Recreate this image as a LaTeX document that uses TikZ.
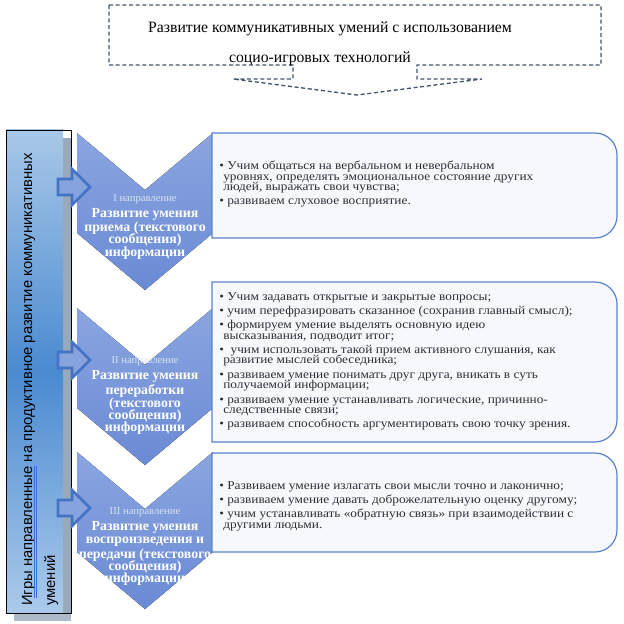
\documentclass[tikz,border=0pt]{standalone}
\usepackage{fontspec}
\setmainfont{Liberation Serif}
\setsansfont{Liberation Sans}
\newfontfamily\bodyfont[FakeStretch=1.11]{Liberation Serif}
\definecolor{ttlline}{HTML}{44546A}
\definecolor{chevtop}{HTML}{8AA5E0}
\definecolor{chevbot}{HTML}{6A8AD4}
\definecolor{boxline}{HTML}{5A82CC}
\definecolor{boxfill}{HTML}{F6F8FD}
\definecolor{arrline}{HTML}{4472C4}
\definecolor{arrfill}{HTML}{86A3DD}
\definecolor{sidetop}{HTML}{A8C8E8}
\definecolor{sidemid}{HTML}{4A8AD0}
\definecolor{sidebot}{HTML}{ABCAEA}
\definecolor{sidegray}{HTML}{98A9BB}
\definecolor{lbltext}{HTML}{D9E1F2}
\definecolor{bodytext}{HTML}{303030}
\definecolor{spellblue}{HTML}{3A6FE0}
\newcommand{\dirlbl}[1]{{\color{lbltext}\fontsize{8}{8}\selectfont\mdseries #1}}
\newcommand{\itm}{\textbullet\ }
\newcommand{\cont}{\hspace*{3pt}}
\newcommand{\tightlines}{\lineskiplimit=-5pt\relax}
\tikzset{
  ttlbox/.style  = {draw=ttlline, line width=1pt, dash pattern=on 3pt off 2pt},
  ttltxt/.style  = {font=\fontsize{11.8}{22.5}\selectfont, align=center, inner sep=0pt},
  chev/.style    = {top color=chevtop, bottom color=chevbot, draw=none},
  chevtxt/.style = {text=white, font=\fontsize{10.4}{9.3}\selectfont\bfseries\tightlines,
                    align=center, inner sep=0pt, anchor=north},
  infobox/.style = {draw=boxline, fill=boxfill, line width=0.9pt},
  infotxt/.style = {text=bodytext, font=\bodyfont\fontsize{9}{7.9}\selectfont\tightlines,
                    align=left, inner sep=0pt, anchor=north west},
  blkarr/.style  = {draw=arrline, fill=arrfill, line width=2pt, line join=miter},
  sidetxt/.style = {font=\sffamily\fontsize{11.1}{13}\selectfont, inner sep=0pt,
                    rotate=90, anchor=base west},
}

\begin{document}
\begin{tikzpicture}[x=0.75pt, y=-0.75pt]
\useasboundingbox (0,0) rectangle (624,624);
% title callout
\draw[ttlbox] (109,5) -- (601,5) -- (601,65) -- (417,65) -- (417,79) -- (482,79)
  -- (357,95) -- (233,79) -- (293,79) -- (293,65) -- (109,65) -- cycle;
\node[ttltxt] (title) at (330,44) {Развитие коммуникативных умений с использованием\\
  социо-игровых технологий\hspace*{15pt}};
% chevrons
\foreach \t in {133,308,452}{
  \fill[chev] (77,\t) -- (145,\t+57) -- (213,\t) -- (213,\t+100) -- (145,\t+157)
    -- (77,\t+100) -- cycle;
}
% text boxes
\draw[infobox] (212,133) -- (400,133) [rounded corners=16.5pt] -- (617,133) -- (617,238)
  -- (400,238) [sharp corners] -- (212,238) -- cycle;
\draw[infobox] (212,282) -- (400,282) [rounded corners=16.5pt] -- (617,282) -- (617,442)
  -- (400,442) [sharp corners] -- (212,442) -- cycle;
\draw[infobox] (212,453) -- (400,453) [rounded corners=16.5pt] -- (617,453) -- (617,552)
  -- (400,552) [sharp corners] -- (212,552) -- cycle;
\node[infotxt] (t1) at (219,161) {\itm Учим общаться на вербальном и невербальном\\
  \cont уровнях, определять эмоциональное состояние других\\
  \cont людей, выражать свои чувства;\\[2.5pt]
  \itm развиваем слуховое восприятие.};
\node[infotxt] (t2) at (219,292) {\itm Учим задавать открытые и закрытые вопросы;\\[2.8pt]
  \itm учим перефразировать сказанное (сохранив главный смысл);\\[2.8pt]
  \itm формируем умение выделять основную идею\\
  \cont высказывания, подводит итог;\\[2.8pt]
  \itm\ учим использовать такой прием активного слушания, как\\
  \cont развитие мыслей собеседника;\\[2.8pt]
  \itm развиваем умение понимать друг друга, вникать в суть\\
  \cont получаемой информации;\\[2.8pt]
  \itm развиваем умение устанавливать логические, причинно-\\
  \cont следственные связи;\\[2.8pt]
  \itm развиваем способность аргументировать свою точку зрения.};
\node[infotxt] (t3) at (219,481) {\itm Развиваем умение излагать свои мысли точно и лаконично;\\[2.8pt]
  \itm развиваем умение давать доброжелательную оценку другому;\\[2.8pt]
  \itm учим устанавливать «обратную связь» при взаимодействии с\\
  \cont другими людьми.};
% chevron texts
\node[chevtxt] (c1) at (145,194) {\dirlbl{I направление}\\[3pt] Развитие умения\\[1pt]
  приема (текстового\\ сообщения)\\ информации};
\node[chevtxt] (c2) at (145,356) {\dirlbl{II направление}\\[3pt] Развитие умения\\[2pt]
  переработки\\ (текстового\\ сообщения)\\ информации};
\node[chevtxt] (c3) at (145,507) {\dirlbl{III направление}\\[3pt] Развитие умения\\
  воспроизведения и\\[2pt] передачи (текстового\\ сообщения)\\ информации};
% side box
\fill[sidegray!80] (14,613) rectangle (71,621);
\fill[sidegray] (63,138) rectangle (71,613);
\shade[top color=sidetop, bottom color=sidebot, middle color=sidemid] (6,130) rectangle (63,613);
\draw[line width=0.6pt] (6,130) rectangle (71,613);
\node[sidetxt] (side1) at (32,606) {Игры  направленные на продуктивное развитие коммуникативных};
\node[sidetxt] (side2) at (55,606) {умений};
\draw[spellblue, line width=0.5pt] (34.5,598) -- (34.5,466);
\draw[spellblue, line width=0.5pt] (36,598) -- (36,466);
% block arrows
\foreach \y in {187,360,508}{
  \filldraw[blkarr] (58,\y-8) -- (72,\y-8) -- (72,\y-18) -- (90,\y) -- (72,\y+18)
    -- (72,\y+8) -- (58,\y+8) -- cycle;
}
\end{tikzpicture}
\end{document}
